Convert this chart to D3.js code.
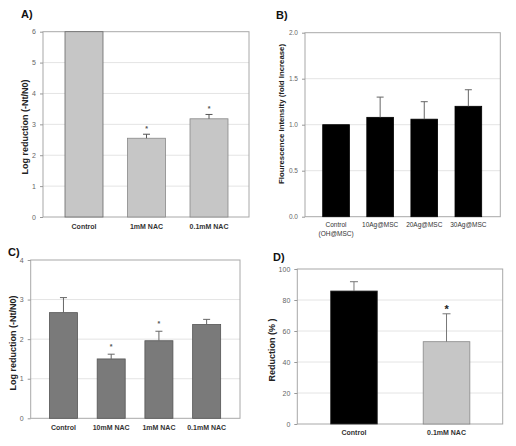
<!DOCTYPE html>
<html><head><meta charset="utf-8">
<script src="https://cdn.jsdelivr.net/npm/d3@7"></script>
<style>body{margin:0;background:#fff}text{font-family:"Liberation Sans",Arial,sans-serif}</style>
</head><body><svg id="c" width="516" height="446"></svg>
<script>
// Panel A
const catsA = ["Control", "1mM NAC", "0.1mM NAC"];
const valsA = [6.0, 2.55, 3.18];
const errA = [0, 0.13, 0.14];
const sigA = [false, true, true];
const ticksA = [0, 1, 2, 3, 4, 5, 6];
// Panel B
const catsB = [["Control", "(OH@MSC)"], ["10Ag@MSC"], ["20Ag@MSC"], ["30Ag@MSC"]];
const valsB = [1.0, 1.08, 1.06, 1.20];
const errB = [0, 0.22, 0.19, 0.18];
const sigB = [false, false, false, false];
const ticksB = [0, 0.5, 1.0, 1.5, 2.0];
// Panel C
const catsC = ["Control", "10mM NAC", "1mM NAC", "0.1mM NAC"];
const valsC = [2.67, 1.50, 1.96, 2.37];
const errC = [0.38, 0.12, 0.24, 0.13];
const sigC = [false, true, true, false];
const ticksC = [0, 1, 2, 3, 4];
// Panel D
const catsD = ["Control", "0.1mM NAC"];
const valsD = [85.8, 53.1];
const errD = [6.0, 18.0];
const sigD = [false, true];
const ticksD = [0, 20, 40, 60, 80, 100];

const svg = d3.select("#c");

function panel(o) {
  const g = svg.append("g");
  const y = d3.scaleLinear().domain([0, o.ticks[o.ticks.length - 1]]).range([o.bottom, o.top]);
  const x = d3.scaleBand().domain(o.cats.map((d, i) => i)).range(o.band)
    .paddingInner(o.pi).paddingOuter(o.pi / 2);
  g.selectAll(".grid").data(o.ticks.slice(1, -1)).join("line")
    .attr("x1", o.left).attr("x2", o.right)
    .attr("y1", d => y(d)).attr("y2", d => y(d))
    .attr("stroke", "#e4e4e4").attr("stroke-width", 1);
  g.append("rect").attr("x", o.left).attr("y", o.top)
    .attr("width", o.right - o.left).attr("height", o.bottom - o.top)
    .attr("fill", "none").attr("stroke", "#a8a8a8").attr("stroke-width", 1);
  const ax = g.append("g").attr("transform", `translate(${o.left},0)`)
    .call(d3.axisLeft(y).tickValues(o.ticks).tickSize(3).tickPadding(4).tickFormat(o.fmt));
  ax.select(".domain").remove();
  ax.selectAll("line").attr("stroke", "#999");
  ax.selectAll("text").attr("fill", "#666").style("font-size", o.tickFs + "px");
  g.selectAll(".bar").data(o.vals).join("rect")
    .attr("x", (d, i) => x(i)).attr("width", x.bandwidth())
    .attr("y", d => y(d)).attr("height", d => o.bottom - y(d))
    .attr("fill", (d, i) => o.colors[i]).attr("stroke", (d, i) => o.strokes[i]).attr("stroke-width", 0.8);
  o.vals.forEach((v, i) => {
    if (o.errs[i] > 0) {
      const cx = x(i) + x.bandwidth() / 2;
      g.append("line").attr("x1", cx).attr("x2", cx).attr("y1", y(v)).attr("y2", y(v + o.errs[i]))
        .attr("stroke", o.errColor).attr("stroke-width", 1);
      g.append("line").attr("x1", cx - o.cap).attr("x2", cx + o.cap)
        .attr("y1", y(v + o.errs[i])).attr("y2", y(v + o.errs[i]))
        .attr("stroke", o.errColor).attr("stroke-width", 1);
    }
    if (o.sig[i]) {
      g.append("text").attr("x", x(i) + x.bandwidth() / 2).attr("y", y(v + o.errs[i]) - o.starOff)
        .attr("text-anchor", "middle").style("font-size", o.starFs + "px").style("font-weight", "bold")
        .attr("fill", o.starColor).text("*");
    }
  });
  o.cats.forEach((c, i) => {
    const lines = Array.isArray(c) ? c : [c];
    lines.forEach((l, j) => {
      g.append("text").attr("x", x(i) + x.bandwidth() / 2).attr("y", o.xlabY + j * 9)
        .attr("text-anchor", "middle").style("font-size", o.xFs + "px")
        .style("font-weight", o.xWeight).attr("fill", "#333").text(l);
    });
  });
  g.append("text").attr("transform", `translate(${o.ytX},${o.ytY}) rotate(-90)`)
    .attr("text-anchor", "middle").style("font-size", o.ytFs + "px").style("font-weight", "bold")
    .attr("fill", "#222").text(o.ytitle);
  g.append("text").attr("x", o.labX).attr("y", o.labY).style("font-size", "11px")
    .style("font-weight", "bold").attr("fill", "#111").text(o.label);
}

panel({ cats: catsA, vals: valsA, errs: errA, sig: sigA, ticks: ticksA, fmt: d3.format("d"),
  left: 43, right: 249, top: 31.7, bottom: 217, band: [52.75, 240.25], pi: 0.392,
  colors: ["#c6c6c6", "#c6c6c6", "#c6c6c6"], strokes: ["#666", "#888", "#888"], errColor: "#555", cap: 3.5,
  starOff: 3, starFs: 7, starColor: "#555", xlabY: 229, xFs: 7, xWeight: "bold", tickFs: 7,
  ytitle: "Log reduction (-Nt/N0)", ytX: 28, ytY: 127, ytFs: 9, label: "A)", labX: 21, labY: 18 });

panel({ cats: catsB, vals: valsB, errs: errB, sig: sigB, ticks: ticksB, fmt: d3.format(".1f"),
  left: 305, right: 500.3, top: 32.7, bottom: 216.7, band: [314, 490.4], pi: 0.395,
  colors: ["#000", "#000", "#000", "#000"], strokes: ["#000", "#000", "#000", "#000"], errColor: "#666", cap: 3.5,
  starOff: 4, starFs: 8, starColor: "#333", xlabY: 226.5, xFs: 6.5, xWeight: "normal", tickFs: 6.5,
  ytitle: "Flourescence Intensity (fold Increase)", ytX: 284, ytY: 114, ytFs: 7.8, label: "B)", labX: 276, labY: 19 });

panel({ cats: catsC, vals: valsC, errs: errC, sig: sigC, ticks: ticksC, fmt: d3.format("d"),
  left: 30.7, right: 240, top: 260, bottom: 418.3, band: [39.6, 230.5], pi: 0.413,
  colors: ["#7a7a7a", "#7a7a7a", "#7a7a7a", "#7a7a7a"], strokes: ["#555", "#555", "#555", "#555"], errColor: "#666", cap: 3.5,
  starOff: 5, starFs: 7, starColor: "#555", xlabY: 429.5, xFs: 7, xWeight: "bold", tickFs: 7,
  ytitle: "Log reduction (-Nt/N0)", ytX: 16, ytY: 343, ytFs: 9, label: "C)", labX: 8, labY: 256 });

panel({ cats: catsD, vals: valsD, errs: errD, sig: sigD, ticks: ticksD, fmt: d3.format("d"),
  left: 297.3, right: 502.7, top: 269, bottom: 424, band: [307.7, 492.8], pi: 0.496,
  colors: ["#000", "#c6c6c6"], strokes: ["#333", "#888"], errColor: "#777", cap: 4,
  starOff: 1, starFs: 11, starColor: "#222", xlabY: 434.5, xFs: 7, xWeight: "bold", tickFs: 7,
  ytitle: "Reduction (% )", ytX: 275, ytY: 350, ytFs: 9, label: "D)", labX: 273, labY: 261 });
</script></body></html>
